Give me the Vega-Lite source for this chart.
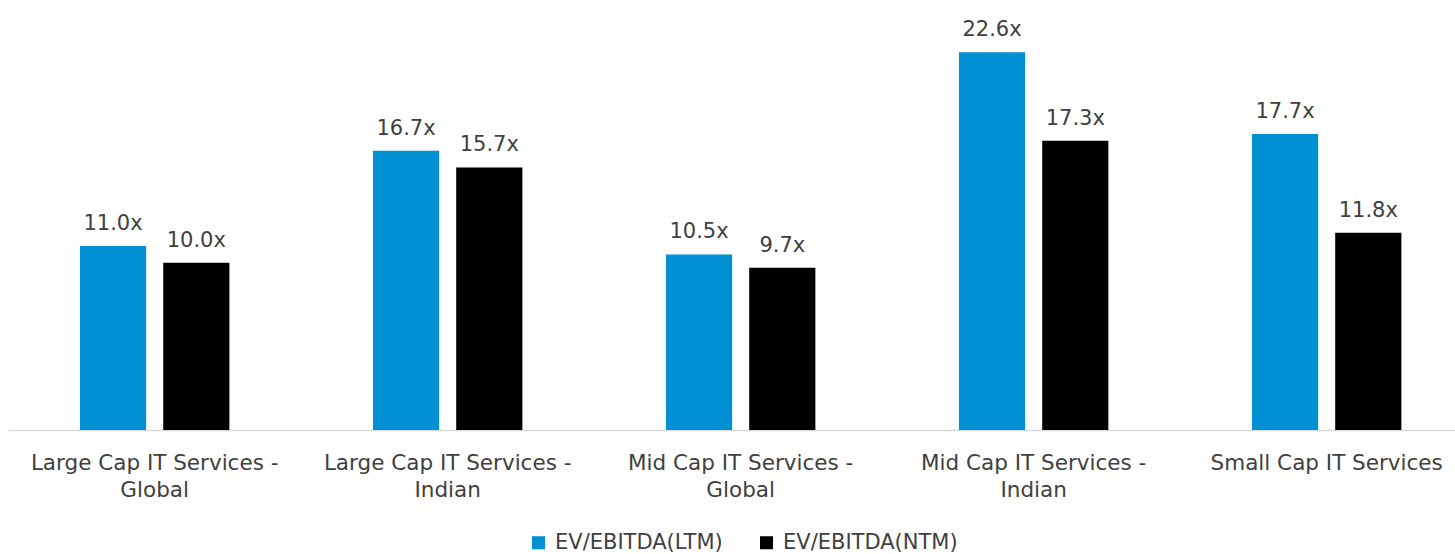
{
  "$schema": "https://vega.github.io/schema/vega-lite/v6.json",
  "autosize": {"type": "none"},
  "width": 1447,
  "height": 418,
  "padding": {"left": 8, "top": 12, "right": 0, "bottom": 124},
  "background": "#ffffff",
  "config": {
    "view": {"stroke": null},
    "font": "DejaVu Sans",
    "text": {"font": "DejaVu Sans"}
  },
  "data": {
    "values": [
      {"category": "Large Cap IT Services - Global", "series": "EV/EBITDA(LTM)", "value": 11.0},
      {"category": "Large Cap IT Services - Global", "series": "EV/EBITDA(NTM)", "value": 10.0},
      {"category": "Large Cap IT Services - Indian", "series": "EV/EBITDA(LTM)", "value": 16.7},
      {"category": "Large Cap IT Services - Indian", "series": "EV/EBITDA(NTM)", "value": 15.7},
      {"category": "Mid Cap IT Services - Global", "series": "EV/EBITDA(LTM)", "value": 10.5},
      {"category": "Mid Cap IT Services - Global", "series": "EV/EBITDA(NTM)", "value": 9.7},
      {"category": "Mid Cap IT Services - Indian", "series": "EV/EBITDA(LTM)", "value": 22.6},
      {"category": "Mid Cap IT Services - Indian", "series": "EV/EBITDA(NTM)", "value": 17.3},
      {"category": "Small Cap IT Services", "series": "EV/EBITDA(LTM)", "value": 17.7},
      {"category": "Small Cap IT Services", "series": "EV/EBITDA(NTM)", "value": 11.8}
    ]
  },
  "transform": [
    {"calculate": "format(datum.value, '.1f') + 'x'", "as": "label"}
  ],
  "encoding": {
    "x": {
      "field": "category",
      "type": "nominal",
      "sort": null,
      "scale": {"paddingInner": 0.49, "paddingOuter": 0.2143, "align": 0.573},
      "axis": {
        "title": null,
        "labelAngle": 0,
        "ticks": false,
        "domainColor": "#d9d9d9",
        "domainWidth": 1.5,
        "labelFont": "DejaVu Sans",
        "labelFontSize": 21.5,
        "labelColor": "#404040",
        "labelPadding": 22,
        "labelLineHeight": 27,
        "labelLimit": 400,
        "labelExpr": "indexof(datum.label, ' - ') > 0 ? [slice(datum.label, 0, indexof(datum.label, ' - ') + 2), slice(datum.label, indexof(datum.label, ' - ') + 3)] : datum.label"
      }
    },
    "xOffset": {
      "field": "series",
      "type": "nominal",
      "scale": {"paddingInner": 0.205, "paddingOuter": 0}
    },
    "y": {
      "field": "value",
      "type": "quantitative",
      "scale": {"domain": [0, 25], "nice": false},
      "axis": null
    }
  },
  "layer": [
    {
      "mark": {"type": "bar"},
      "encoding": {
        "color": {
          "field": "series",
          "type": "nominal",
          "scale": {"domain": ["EV/EBITDA(LTM)", "EV/EBITDA(NTM)"], "range": ["#0090d4", "#000000"]},
          "legend": {
            "title": null,
            "orient": "none",
            "legendX": 520,
            "legendY": 520,
            "direction": "horizontal",
            "symbolType": "square",
            "symbolSize": 170,
            "symbolStrokeWidth": 0,
            "labelFont": "DejaVu Sans",
            "labelFontSize": 21,
            "labelColor": "#404040",
            "labelOffset": 6,
            "labelLimit": 400,
            "columnPadding": 33
          }
        }
      }
    },
    {
      "mark": {"type": "text", "baseline": "alphabetic", "dy": -16, "fontSize": 21, "color": "#404040", "font": "DejaVu Sans"},
      "encoding": {
        "text": {"field": "label", "type": "nominal"}
      }
    }
  ]
}
